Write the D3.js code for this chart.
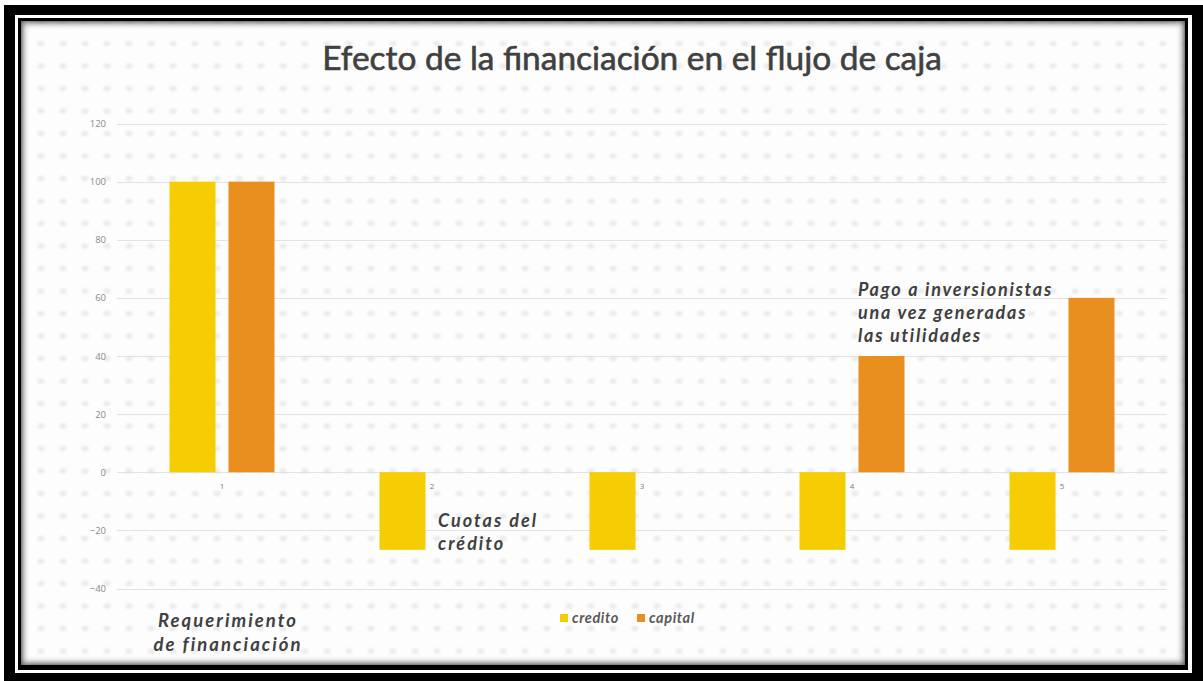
<!DOCTYPE html>
<html lang="es">
<head>
<meta charset="UTF-8">
<title>Efecto de la financiación en el flujo de caja</title>
<script src="https://cdn.jsdelivr.net/npm/d3@7"></script>
<style>
    body { margin: 0; background: #fff; }
    svg { display: block; }
    .grid line { stroke: #e2e2e2; stroke-width: 1px; }
    .ylab { font-family: "Open Sans", sans-serif; font-size: 9.5px; fill: #8a8a8a; }
    .xlab { font-family: "Open Sans", sans-serif; font-size: 8px; fill: #7a7a7a; }
    .title { font-family: "Lato", sans-serif; font-weight: normal; fill: #404040; stroke: #404040; stroke-width: 0.6px; }
    .note { font-family: "Lato", sans-serif; font-weight: bold; font-style: italic; fill: #404040; }
    .legend text { font-family: "Lato", sans-serif; font-weight: bold; font-style: italic; fill: #595959; }
</style>
</head>
<body>
<div id="chart"></div>
<script>
    // datos del grafico
    var categories = ["1", "2", "3", "4", "5"];
    var credito = [100, -26.7, -26.7, -26.7, -26.7];
    var capital = [100, 0, 0, 40, 60];
    var seriesNames = ["credito", "capital"];
    var yTicks = [-40, -20, 0, 20, 40, 60, 80, 100, 120];
    var colors = {credito: "#f6cc02", capital: "#e88f1f"};

    var W = 1203, H = 681;

    var svg = d3.select("#chart").append("svg")
        .attr("width", W)
        .attr("height", H);

    var defs = svg.append("defs");

    // marco negro doble
    svg.append("rect").attr("x", 4).attr("y", 5).attr("width", W - 4).attr("height", H - 5).attr("fill", "#000");
    svg.append("rect").attr("x", 15).attr("y", 15).attr("width", 1177).attr("height", 658).attr("fill", "#fff");
    svg.append("rect").attr("x", 18).attr("y", 18).attr("width", 1170).attr("height", 652).attr("fill", "#000");

    var box = {x: 21, y: 21, w: 1164, h: 644};

    // fondo con puntos tenues
    defs.append("filter").attr("id", "soft")
        .append("feGaussianBlur").attr("stdDeviation", 1);
    var pat = defs.append("pattern")
        .attr("id", "dots")
        .attr("patternUnits", "userSpaceOnUse")
        .attr("x", 8).attr("y", 10)
        .attr("width", 22).attr("height", 22.5);
    pat.append("rect").attr("width", 22).attr("height", 22.5).attr("fill", "#fdfdfd");
    pat.append("ellipse").attr("cx", 11).attr("cy", 11).attr("rx", 3.6).attr("ry", 2.8)
        .attr("fill", "#ebebeb").attr("filter", "url(#soft)");

    svg.append("rect")
        .attr("x", box.x).attr("y", box.y)
        .attr("width", box.w).attr("height", box.h)
        .attr("fill", "url(#dots)");

    // sombra interior
    var sides = [
        {id: "shT", x1: 0, y1: 0, x2: 0, y2: 1, x: box.x, y: box.y, w: box.w, h: 10},
        {id: "shB", x1: 0, y1: 1, x2: 0, y2: 0, x: box.x, y: box.y + box.h - 10, w: box.w, h: 10},
        {id: "shL", x1: 0, y1: 0, x2: 1, y2: 0, x: box.x, y: box.y, w: 10, h: box.h},
        {id: "shR", x1: 1, y1: 0, x2: 0, y2: 0, x: box.x + box.w - 10, y: box.y, w: 10, h: box.h}
    ];
    sides.forEach(function(s) {
        var g = defs.append("linearGradient").attr("id", s.id)
            .attr("x1", s.x1).attr("y1", s.y1).attr("x2", s.x2).attr("y2", s.y2);
        g.append("stop").attr("offset", 0).attr("stop-color", "#555").attr("stop-opacity", 0.8);
        g.append("stop").attr("offset", 0.5).attr("stop-color", "#999").attr("stop-opacity", 0.25);
        g.append("stop").attr("offset", 1).attr("stop-color", "#fff").attr("stop-opacity", 0);
        svg.append("rect").attr("x", s.x).attr("y", s.y).attr("width", s.w).attr("height", s.h)
            .attr("fill", "url(#" + s.id + ")");
    });

    // escalas
    var plot = {left: 117, right: 1167};
    var x0 = d3.scaleBand()
        .domain(categories)
        .range([plot.left, plot.right])
        .paddingInner(0.5)
        .paddingOuter(0.25);
    var x1 = d3.scaleBand()
        .domain(seriesNames)
        .range([0, x0.bandwidth()])
        .paddingInner(0.22);
    var y = d3.scaleLinear()
        .domain([-40, 120])
        .range([588.5, 123.5]);

    // lineas de cuadricula
    svg.append("g").attr("class", "grid")
        .selectAll("line")
        .data(yTicks)
        .enter().append("line")
        .attr("x1", plot.left).attr("x2", plot.right)
        .attr("y1", function(d) { return Math.round(y(d)) + 0.5; })
        .attr("y2", function(d) { return Math.round(y(d)) + 0.5; });

    // eje y
    var yAxis = d3.axisLeft(y).tickValues(yTicks).tickSize(0).tickPadding(0);
    var gy = svg.append("g")
        .attr("transform", "translate(106,0)")
        .call(yAxis);
    gy.select(".domain").remove();
    gy.selectAll("text").attr("class", "ylab").attr("font-family", null).attr("font-size", null);

    // barras
    var rows = categories.map(function(c, i) {
        return {cat: c, values: [{key: "credito", v: credito[i]}, {key: "capital", v: capital[i]}]};
    });

    var groups = svg.append("g").selectAll("g")
        .data(rows)
        .enter().append("g")
        .attr("transform", function(d) { return "translate(" + x0(d.cat) + ",0)"; });

    groups.selectAll("rect")
        .data(function(d) { return d.values; })
        .enter().append("rect")
        .attr("x", function(d) { return x1(d.key); })
        .attr("width", x1.bandwidth())
        .attr("y", function(d) { return y(Math.max(0, d.v)); })
        .attr("height", function(d) { return Math.abs(y(d.v) - y(0)); })
        .attr("fill", function(d) { return colors[d.key]; });

    // etiquetas de categoria
    var xAxis = d3.axisBottom(x0).tickSize(0).tickPadding(0);
    var gx = svg.append("g")
        .attr("transform", "translate(0," + (y(0) + 11) + ")")
        .call(xAxis);
    gx.select(".domain").remove();
    gx.selectAll("text").attr("class", "xlab").attr("font-family", null).attr("font-size", null);

    // ajusta tamano de letra a un ancho objetivo
    function fitSize(sel, target, start) {
        sel.style("font-size", start + "px");
        var w = sel.node().getComputedTextLength();
        var fs = start * target / w;
        sel.style("font-size", fs + "px");
        return fs;
    }

    // espaciado de letras para llegar a un ancho
    function spacingFor(str, cls, size, target) {
        var ref = svg.append("text").attr("class", cls).style("font-size", size + "px").text(str);
        var w = ref.node().getComputedTextLength();
        ref.remove();
        return Math.max(0, (target - w) / str.length);
    }

    // titulo
    var title = svg.append("text")
        .attr("class", "title")
        .attr("x", 632).attr("y", 70)
        .attr("text-anchor", "middle")
        .text("Efecto de la financiación en el flujo de caja");
    fitSize(title, 620, 30);

    // anotaciones
    function note(lines, xPos, yPos, lh, anchor, size, refIndex, refWidth) {
        var ls = spacingFor(lines[refIndex], "note", size, refWidth);
        var t = svg.append("text").attr("class", "note")
            .attr("text-anchor", anchor)
            .style("font-size", size + "px")
            .style("letter-spacing", ls + "px");
        t.selectAll("tspan")
            .data(lines)
            .enter().append("tspan")
            .attr("x", xPos)
            .attr("y", function(d, i) { return yPos + i * lh; })
            .text(function(d) { return d; });
    }
    note(["Requerimiento", "de financiación"], 228, 627, 24, "middle", 18.5, 1, 149);
    note(["Cuotas del", "crédito"], 438, 527, 22.5, "start", 18, 0, 100);
    note(["Pago a inversionistas", "una vez generadas", "las utilidades"], 858, 296, 23, "start", 18, 0, 195);

    // leyenda
    var legend = svg.append("g").attr("class", "legend");
    var legX = [560, 637];
    seriesNames.forEach(function(s, i) {
        legend.append("rect")
            .attr("x", legX[i]).attr("y", 614)
            .attr("width", 8).attr("height", 8)
            .attr("fill", colors[s]);
        legend.append("text")
            .attr("x", legX[i] + 12).attr("y", 623)
            .style("font-size", "14.5px")
            .style("letter-spacing", "0.6px")
            .text(s);
    });
</script>
</body>
</html>
